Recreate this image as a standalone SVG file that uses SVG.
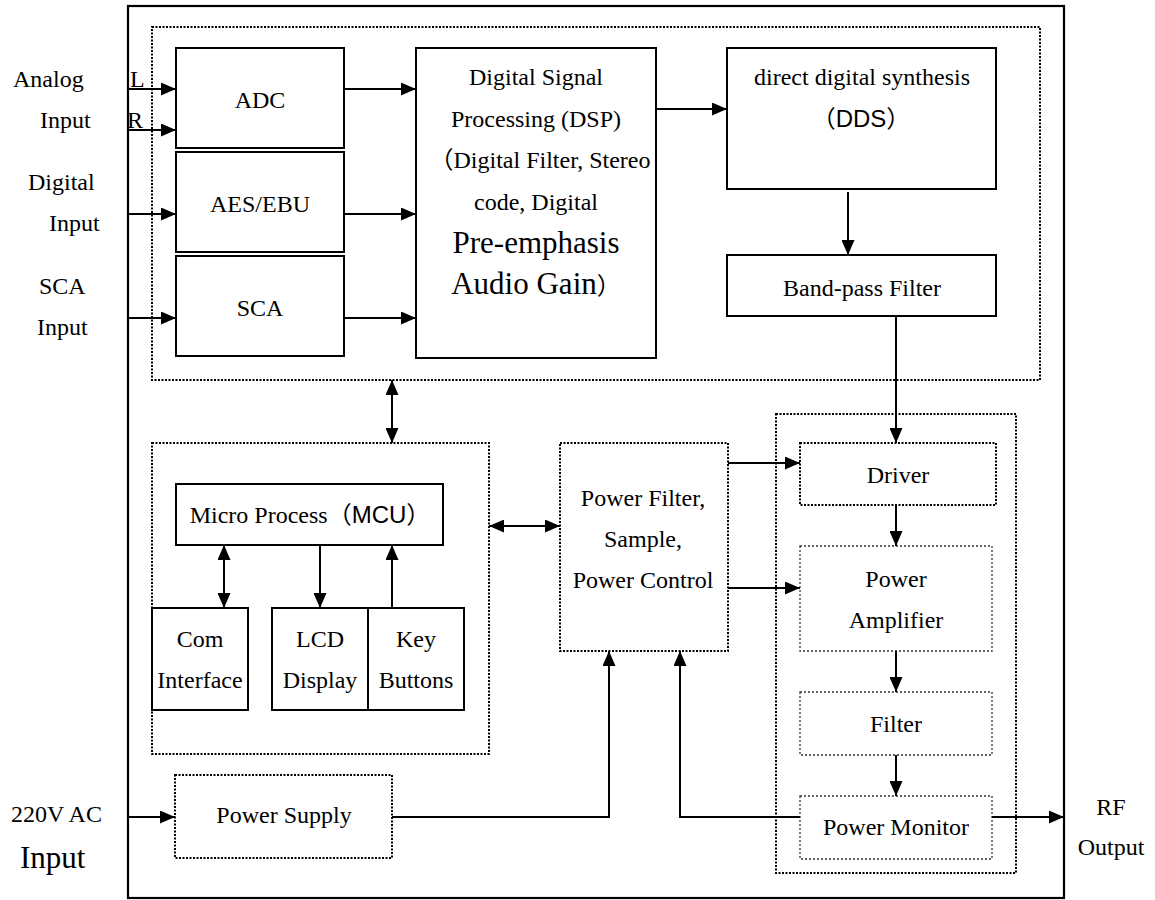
<svg xmlns="http://www.w3.org/2000/svg" width="1155" height="900" viewBox="0 0 1155 900">
<style>
text{font-family:"Liberation Serif","Times New Roman",serif;font-size:24px;fill:#000}
.c{text-anchor:middle}
.big{font-size:31px}
.sans{font-family:"Liberation Sans",Arial,sans-serif}
.cjk{font-family:"Noto Sans CJK SC",sans-serif}
.box{fill:#fff;stroke:#000;stroke-width:2}
.dot{fill:none;stroke:#000;stroke-width:2;stroke-dasharray:2 1.5}
.dotl{fill:none;stroke:#333;stroke-width:1.3;stroke-dasharray:2 2}
.ln{fill:none;stroke:#000;stroke-width:2}
.a{marker-end:url(#ah)}
.b{marker-start:url(#ah);marker-end:url(#ah)}
</style>
<defs>
<marker id="ah" markerUnits="userSpaceOnUse" markerWidth="15" markerHeight="13" refX="15" refY="6.5" orient="auto-start-reverse">
<path d="M0,0 L15,6.5 L0,13 z" fill="#000"/>
</marker>
</defs>
<rect width="1155" height="900" fill="#fff"/>
<g id="frame">
<rect x="128" y="6" width="936" height="892" fill="none" stroke="#000" stroke-width="2.2"/>
<rect x="152" y="27" width="888" height="353" class="dot"/>
<rect x="152" y="443" width="337" height="311" class="dot"/>
<rect x="776" y="414" width="240" height="459" class="dot"/>
</g>
<g id="labels">
<text x="13" y="87">Analog</text>
<text x="40" y="128">Input</text>
<text x="130" y="87">L</text>
<text x="127" y="128">R</text>
<text x="28" y="190">Digital</text>
<text x="49" y="231">Input</text>
<text x="39" y="294">SCA</text>
<text x="37" y="335">Input</text>
<text x="11" y="822">220V AC</text>
<text x="20" y="868" class="big">Input</text>
<text x="1111" y="815" class="c">RF</text>
<text x="1111" y="855" class="c">Output</text>
</g>
<g id="adc"><rect x="176" y="48" width="168" height="100" class="box"/><text x="260" y="108" class="c">ADC</text></g>
<g id="aes"><rect x="176" y="152" width="168" height="100" class="box"/><text x="260" y="212" class="c">AES/EBU</text></g>
<g id="sca"><rect x="176" y="256" width="168" height="100" class="box"/><text x="260" y="316" class="c">SCA</text></g>
<g id="dsp"><rect x="416" y="48" width="240" height="310" class="box"/>
<text x="536" y="85" class="c">Digital Signal</text>
<text x="536" y="127" class="c">Processing (DSP)</text>
<text x="540" y="168" class="c"><tspan class="cjk">（</tspan>Digital Filter, Stereo</text>
<text x="536" y="210" class="c">code, Digital</text>
<text x="536" y="253" class="c big">Pre-emphasis</text>
<text x="536" y="294" class="c big">Audio Gain<tspan class="cjk" font-size="24">）</tspan></text>
</g>
<g id="dds"><rect x="727" y="48" width="269" height="141" class="box"/>
<text x="862" y="85" class="c">direct digital synthesis</text>
<text x="861" y="127" class="c"><tspan class="cjk">（</tspan><tspan class="sans">DDS</tspan><tspan class="cjk">）</tspan></text>
</g>
<g id="bpf"><rect x="727" y="255" width="269" height="61" class="box"/><text x="862" y="296" class="c">Band-pass Filter</text></g>
<g id="mcu"><rect x="176" y="484" width="267" height="61" class="box"/><text x="310" y="523" class="c">Micro Process<tspan class="cjk">（</tspan><tspan class="sans">MCU</tspan><tspan class="cjk">）</tspan></text></g>
<g id="com"><rect x="152" y="608" width="96" height="102" class="box"/><text x="200" y="647" class="c">Com</text><text x="200" y="688" class="c">Interface</text></g>
<g id="lcd"><rect x="272" y="608" width="96" height="102" class="box"/><text x="320" y="647" class="c">LCD</text><text x="320" y="688" class="c">Display</text></g>
<g id="key"><rect x="368" y="608" width="96" height="102" class="box"/><text x="416" y="647" class="c">Key</text><text x="416" y="688" class="c">Buttons</text></g>
<g id="pf"><rect x="560" y="443" width="168" height="208" class="dot"/>
<text x="643" y="506" class="c">Power Filter,</text>
<text x="643" y="547" class="c">Sample,</text>
<text x="643" y="588" class="c">Power Control</text>
</g>
<g id="driver"><rect x="800" y="443" width="196" height="62" class="dot"/><text x="898" y="483" class="c">Driver</text></g>
<g id="pa"><rect x="800" y="546" width="192" height="105" class="dotl"/><text x="896" y="587" class="c">Power</text><text x="896" y="628" class="c">Amplifier</text></g>
<g id="filter"><rect x="800" y="692" width="192" height="63" class="dotl"/><text x="896" y="732" class="c">Filter</text></g>
<g id="pm"><rect x="800" y="796" width="192" height="63" class="dotl"/><text x="896" y="835" class="c">Power Monitor</text></g>
<g id="ps"><rect x="175" y="775" width="217" height="83" class="dot"/><text x="284" y="823" class="c">Power Supply</text></g>
<g id="connectors">
<path d="M128,89 H176" class="ln a"/>
<path d="M128,130 H176" class="ln a"/>
<path d="M128,214 H176" class="ln a"/>
<path d="M128,318 H176" class="ln a"/>
<path d="M344,89 H416" class="ln a"/>
<path d="M344,214 H416" class="ln a"/>
<path d="M344,318 H416" class="ln a"/>
<path d="M656,109 H727" class="ln a"/>
<path d="M848,192 V255" class="ln a"/>
<path d="M896,316 V443" class="ln a"/>
<path d="M392,380 V443" class="ln b"/>
<path d="M489,526 H560" class="ln b"/>
<path d="M224,545 V608" class="ln b"/>
<path d="M320,545 V608" class="ln a"/>
<path d="M392,608 V545" class="ln a"/>
<path d="M728,463 H800" class="ln a"/>
<path d="M728,588 H800" class="ln a"/>
<path d="M896,505 V546" class="ln a"/>
<path d="M896,651 V692" class="ln a"/>
<path d="M896,755 V796" class="ln a"/>
<path d="M992,817 H1064" class="ln a"/>
<path d="M128,817 H175" class="ln a"/>
<path d="M392,817 H609 V651" class="ln a"/>
<path d="M800,817 H680 V651" class="ln a"/>
</g>
</svg>
